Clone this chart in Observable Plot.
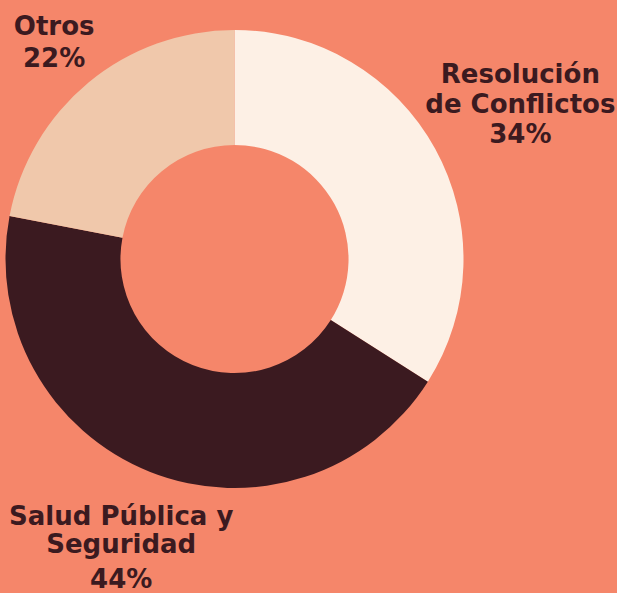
<!DOCTYPE html>
<html>
<head>
<meta charset="utf-8">
<script src="https://cdn.jsdelivr.net/npm/d3@7"></script>
<script src="https://cdn.jsdelivr.net/npm/@observablehq/plot@0.6"></script>
<style>
  html, body { margin: 0; padding: 0; background: #F5866A; }
  #chart svg { display: block; }
</style>
</head>
<body>
<div id="chart"></div>
<script>
// ---- data ----
const categories = ["Resolución de Conflictos", "Salud Pública y Seguridad", "Otros"];
const nameLabels = ["Resolución\nde Conflictos", "Salud Pública y\nSeguridad", "Otros"];
const shares = [34, 44, 22];
const colors = ["#FDF0E5", "#3B1A20", "#F0C8AB"];

// ---- layout ----
const W = 617, H = 593;
const cxPx = 234.5, cyPx = 259, Rpx = 229;
const innerFrac = 0.498;
const textColor = "#3B1A20";
const fontFamily = "DejaVu Sans";
const fontSize = 26;
// label placement along each slice's mid-angle (radius in outer-radius units) + line offsets
const labelLayout = {
  "Otros": {r: 1.239, nameDy: -6, pctDy: 26, lh: 1.2},
  "Resolución de Conflictos": {r: 1.422, nameDy: 10.5, pctDy: 40.5, lh: 30 / 26},
  "Salud Pública y Seguridad": {r: 1.35, nameDy: 6.5, pctDy: 41.5, lh: 28 / 26}
};

const data = categories.map((c, i) => ({category: c, name: nameLabels[i], share: shares[i]}));
const pie = d3.pie().sort(null).value(d => d.share);
const arcs = pie(data);
const color = d3.scaleOrdinal(categories, colors);

const labels = arcs.map(a => {
  const mid = (a.startAngle + a.endAngle) / 2;
  const L = labelLayout[a.data.category];
  return {...a.data, x: L.r * Math.sin(mid), y: L.r * Math.cos(mid), L};
});

function donut(index, scales) {
  const cx = scales.x(0), cy = scales.y(0);
  const R = scales.x(1) - scales.x(0);
  const arc = d3.arc().innerRadius(R * innerFrac).outerRadius(R);
  const g = d3.create("svg:g").attr("transform", `translate(${cx},${cy})`);
  g.selectAll("path").data(arcs).join("path")
    .attr("d", arc)
    .attr("fill", d => color(d.data.category));
  return g.node();
}

const textMarks = labels.flatMap(l => [
  Plot.text([l], {x: "x", y: "y", text: "name", lineAnchor: "bottom", dy: l.L.nameDy,
    lineHeight: l.L.lh, fill: textColor, fontSize, fontWeight: "bold", fontFamily, textAnchor: "middle"}),
  Plot.text([l], {x: "x", y: "y", text: d => `${d.share}%`, lineAnchor: "bottom", dy: l.L.pctDy,
    fill: textColor, fontSize, fontWeight: "bold", fontFamily, textAnchor: "middle"})
]);

const chart = Plot.plot({
  width: W, height: H, margin: 0,
  x: {domain: [-cxPx / Rpx, (W - cxPx) / Rpx], axis: null},
  y: {domain: [-(H - cyPx) / Rpx, cyPx / Rpx], axis: null},
  style: {background: "#F5866A", overflow: "visible"},
  marks: [donut, ...textMarks]
});
document.getElementById("chart").appendChild(chart);
</script>
</body>
</html>
